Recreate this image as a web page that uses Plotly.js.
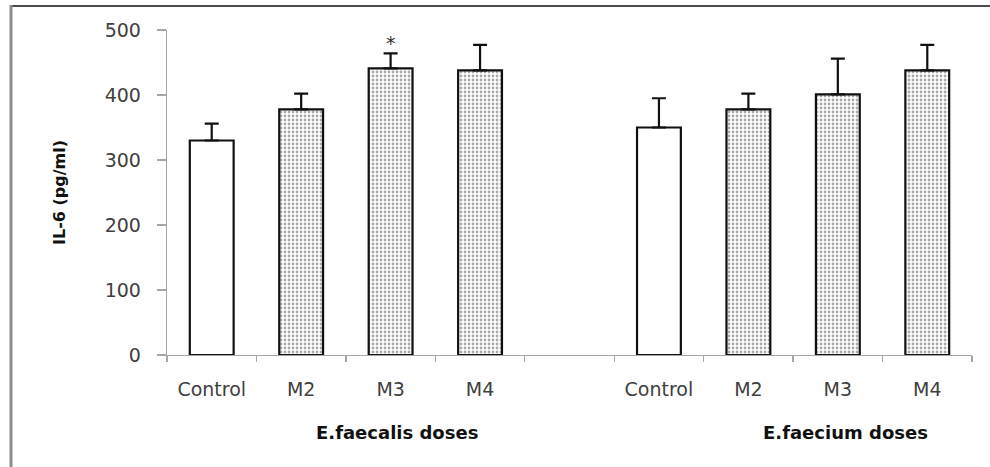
<!DOCTYPE html>
<html>
<head>
<meta charset="utf-8">
<script src="https://cdn.plot.ly/plotly-3.0.1.min.js"></script>
<style>
  html, body { margin: 0; padding: 0; background: #fff; }
  #chart { width: 990px; height: 467px; }
</style>
</head>
<body>
<div id="chart"></div>
<script>
// Category slots (the empty slot separates the two groups)
const categories = ["faecalis_Control", "faecalis_M2", "faecalis_M3", "faecalis_M4", "gap",
                    "faecium_Control", "faecium_M2", "faecium_M3", "faecium_M4"];
const tickLabels = ["Control", "M2", "M3", "M4", "", "Control", "M2", "M3", "M4"];

// Bar categories and values (IL-6, pg/ml)
const barCategories = ["faecalis_Control", "faecalis_M2", "faecalis_M3", "faecalis_M4",
                       "faecium_Control", "faecium_M2", "faecium_M3", "faecium_M4"];
const il6Values = [330, 378, 441, 438, 350, 378, 401, 438];
const il6Errors = [26, 24, 23, 39, 45, 24, 55, 39];
const barPatterns = ["", ".", ".", ".", "", ".", ".", "."];

const groupLabels = ["E.faecalis doses", "E.faecium doses"];
const yTickValues = [0, 100, 200, 300, 400, 500];

// layout geometry (pixels)
const W = 990, H = 467;
const L = 167, R = 18, T = 30, B = 112;
const pw = W - L - R, ph = H - T - B;
const px = x => (x - L) / pw;
const py = y => (H - B - y) / ph;

const axisGrey = "#a6a6a6";
const textGrey = "#404040";
const tickFont = { family: "DejaVu Sans", size: 19, color: textGrey };

const trace = {
  type: "bar",
  x: barCategories,
  y: il6Values,
  width: 0.49,
  marker: {
    color: "#ffffff",
    line: { color: "#111111", width: 2.2 },
    pattern: { shape: barPatterns, fgcolor: "#555555", bgcolor: "#ffffff", size: 4, solidity: 0.38, fillmode: "overlay" }
  },
  error_y: {
    type: "data",
    symmetric: false,
    array: il6Errors,
    arrayminus: il6Errors.map(() => 0),
    color: "#111111",
    thickness: 2.2,
    width: 7
  },
  hoverinfo: "x+y"
};

const layout = {
  width: W, height: H,
  margin: { l: L, r: R, t: T, b: B, pad: 0 },
  paper_bgcolor: "#ffffff",
  plot_bgcolor: "#ffffff",
  showlegend: false,
  bargap: 0.51,
  xaxis: {
    type: "category",
    categoryorder: "array",
    categoryarray: categories,
    tickmode: "array",
    tickvals: categories,
    ticktext: tickLabels,
    range: [-0.5, 8.5],
    tickson: "boundaries",
    ticks: "outside",
    ticklen: 6,
    tickcolor: axisGrey,
    tickwidth: 1.3,
    showline: true,
    linecolor: axisGrey,
    linewidth: 1.3,
    showgrid: false,
    zeroline: false,
    tickfont: tickFont,
    ticklabelstandoff: 17,
    fixedrange: true
  },
  yaxis: {
    range: [0, 500],
    tickmode: "array",
    tickvals: yTickValues,
    ticks: "outside",
    ticklen: 9,
    tickcolor: axisGrey,
    tickwidth: 1.3,
    showline: true,
    linecolor: axisGrey,
    linewidth: 1.3,
    showgrid: false,
    zeroline: false,
    tickfont: tickFont,
    ticklabelstandoff: 12,
    fixedrange: true
  },
  annotations: [
    { xref: "x", yref: "y", x: "faecalis_M3", y: 480, text: "*", showarrow: false,
      font: { family: "DejaVu Sans", size: 19, color: "#333333" }, yanchor: "middle" },
    { xref: "paper", yref: "paper", x: px(397), y: py(432), text: "<b>" + groupLabels[0] + "</b>",
      showarrow: false, xanchor: "center", yanchor: "middle",
      font: { family: "DejaVu Sans", size: 18, color: "#111111" } },
    { xref: "paper", yref: "paper", x: px(845), y: py(432), text: "<b>" + groupLabels[1] + "</b>",
      showarrow: false, xanchor: "center", yanchor: "middle",
      font: { family: "DejaVu Sans", size: 18, color: "#111111" } },
    { xref: "paper", yref: "paper", x: px(60), y: py(193), text: "<b>IL-6 (pg/ml)</b>",
      showarrow: false, textangle: -90, xanchor: "center", yanchor: "middle",
      font: { family: "DejaVu Sans", size: 16, color: "#111111" } }
  ],
  shapes: [
    { type: "line", xref: "paper", yref: "paper", x0: px(10), x1: px(995), y0: py(6), y1: py(6),
      line: { color: "#4d4d4d", width: 2 } },
    { type: "line", xref: "paper", yref: "paper", x0: px(11), x1: px(11), y0: py(5), y1: py(470),
      line: { color: "#8c8c8c", width: 3 } }
  ]
};

Plotly.newPlot("chart", [trace], layout, { displayModeBar: false, staticPlot: true });
</script>
</body>
</html>
